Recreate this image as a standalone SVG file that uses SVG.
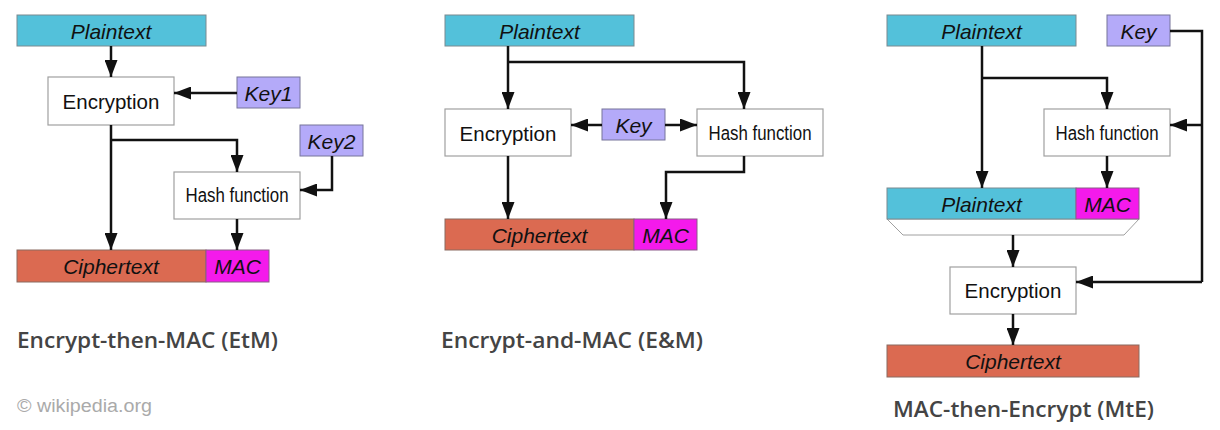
<svg xmlns="http://www.w3.org/2000/svg" width="1220" height="430" viewBox="0 0 1220 430">
<style>
.pt{fill:#53c1da;stroke:#7a8a90;stroke-width:1}
.ct{fill:#db6a51;stroke:#8a6a60;stroke-width:1}
.mac{fill:#f41aeb;stroke:#8a5a88;stroke-width:1}
.key{fill:#b4aaf9;stroke:#77759a;stroke-width:1}
.box{fill:#ffffff;stroke:#a0a0a0;stroke-width:1.2}
.it{font-family:"Liberation Sans",Arial,sans-serif;font-style:italic;font-size:21px;fill:#111;text-anchor:middle}
.rm{font-family:"Liberation Sans",Arial,sans-serif;font-size:20.5px;fill:#111;text-anchor:middle}
.hf{font-family:"Liberation Sans",Arial,sans-serif;font-size:20px;fill:#111;text-anchor:middle}
.ttl{font-family:"Open Sans","Noto Sans",sans-serif;font-weight:600;font-size:22px;fill:#444444}
.wm{font-family:"Liberation Sans",Arial,sans-serif;font-size:18px;fill:#aaaaaa}
.ln{fill:none;stroke:#111;stroke-width:2.5}
.la{fill:none;stroke:#111;stroke-width:2.5;marker-end:url(#ah)}
</style>
<defs>
<marker id="ah" markerUnits="userSpaceOnUse" markerWidth="18" markerHeight="13" refX="17" refY="6.5" orient="auto">
<path d="M0,0 L17,6.5 L0,13 z" fill="#111"/>
</marker>
</defs>
<rect width="1220" height="430" fill="#ffffff"/>

<!-- Panel 1: Encrypt-then-MAC -->
<g id="etm-plaintext"><rect class="pt" x="17" y="15" width="189" height="31"/><text class="it" x="111" y="39">Plaintext</text></g>
<g id="etm-encryption"><rect class="box" x="48" y="77" width="126" height="48"/><text class="rm" x="111" y="109">Encryption</text></g>
<g id="etm-key1"><rect class="key" x="237" y="77" width="63" height="31"/><text class="it" x="268.5" y="101">Key1</text></g>
<g id="etm-key2"><rect class="key" x="300" y="125" width="63" height="31"/><text class="it" x="331.5" y="149">Key2</text></g>
<g id="etm-hash"><rect class="box" x="174" y="172" width="126" height="47"/><text class="hf" x="237" y="202" textLength="103" lengthAdjust="spacingAndGlyphs">Hash function</text></g>
<g id="etm-ciphertext"><rect class="ct" x="17" y="250" width="189" height="32"/><text class="it" x="111" y="274">Ciphertext</text></g>
<g id="etm-mac"><rect class="mac" x="206" y="250" width="63" height="32"/><text class="it" x="237.5" y="274">MAC</text></g>

<!-- Panel 2: Encrypt-and-MAC -->
<g id="eam-plaintext"><rect class="pt" x="445" y="15" width="189" height="31"/><text class="it" x="539.5" y="39">Plaintext</text></g>
<g id="eam-encryption"><rect class="box" x="445" y="109" width="126" height="47"/><text class="rm" x="508" y="141">Encryption</text></g>
<g id="eam-key"><rect class="key" x="602" y="109" width="63" height="31"/><text class="it" x="633.5" y="133">Key</text></g>
<g id="eam-hash"><rect class="box" x="697" y="109" width="126" height="47"/><text class="hf" x="760" y="140" textLength="103" lengthAdjust="spacingAndGlyphs">Hash function</text></g>
<g id="eam-ciphertext"><rect class="ct" x="445" y="219" width="189" height="31"/><text class="it" x="539.5" y="243">Ciphertext</text></g>
<g id="eam-mac"><rect class="mac" x="634" y="219" width="63" height="31"/><text class="it" x="665.5" y="243">MAC</text></g>

<!-- Panel 3: MAC-then-Encrypt -->
<g id="mte-plaintext"><rect class="pt" x="887" y="15" width="189" height="31"/><text class="it" x="981.5" y="39">Plaintext</text></g>
<g id="mte-key"><rect class="key" x="1107" y="15" width="63" height="31"/><text class="it" x="1138.5" y="39">Key</text></g>
<g id="mte-hash"><rect class="box" x="1044" y="109" width="126" height="47"/><text class="hf" x="1107" y="140" textLength="103" lengthAdjust="spacingAndGlyphs">Hash function</text></g>
<g id="mte-concat">
<path d="M887,219 L1139,219 L1124,235 L903,235 Z" fill="#ffffff" stroke="#a0a0a0" stroke-width="1"/>
<rect class="pt" x="887" y="188" width="189" height="31"/><text class="it" x="981.5" y="212">Plaintext</text>
<rect class="mac" x="1076" y="188" width="63" height="31"/><text class="it" x="1107.5" y="212">MAC</text>
</g>
<g id="mte-encryption"><rect class="box" x="950" y="267" width="126" height="47"/><text class="rm" x="1013" y="298">Encryption</text></g>
<g id="mte-ciphertext"><rect class="ct" x="887" y="345" width="252" height="32"/><text class="it" x="1013" y="369">Ciphertext</text></g>

<!-- Connectors -->
<g id="connectors">
<path class="la" d="M111,46 V77"/>
<path class="la" d="M237,93 H174"/>
<path class="la" d="M111,125 V250"/>
<path class="la" d="M111,140 H237 V172"/>
<path class="la" d="M332,156 V190 H300"/>
<path class="la" d="M237,219 V250"/>

<path class="la" d="M508,46 V109"/>
<path class="la" d="M508,62 H744 V109"/>
<path class="la" d="M602,125 H571"/>
<path class="la" d="M665,125 H697"/>
<path class="la" d="M508,156 V219"/>
<path class="la" d="M744,156 V172 H666 V219"/>

<path class="la" d="M982,46 V188"/>
<path class="la" d="M982,78 H1107 V109"/>
<path class="la" d="M1107,156 V188"/>
<path class="ln" d="M1170,31 H1202 V282"/>
<path class="la" d="M1202,125 H1170"/>
<path class="la" d="M1202,282 H1076"/>
<path class="la" d="M1013,235 V267"/>
<path class="la" d="M1013,314 V345"/>
</g>

<!-- Titles -->
<text class="ttl" x="17" y="348" textLength="261" lengthAdjust="spacingAndGlyphs">Encrypt-then-MAC (EtM)</text>
<text class="ttl" x="441" y="348" textLength="262" lengthAdjust="spacingAndGlyphs">Encrypt-and-MAC (E&amp;M)</text>
<text class="ttl" x="893" y="417" textLength="261" lengthAdjust="spacingAndGlyphs">MAC-then-Encrypt (MtE)</text>
<text class="wm" x="17" y="412" textLength="135" lengthAdjust="spacingAndGlyphs">© wikipedia.org</text>
</svg>
